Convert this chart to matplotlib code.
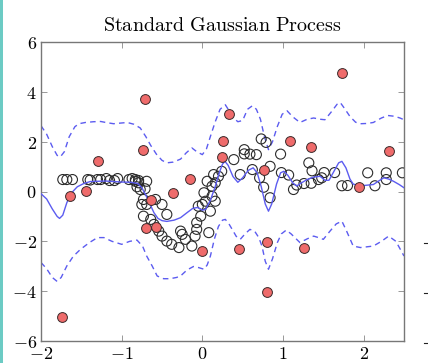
import matplotlib
matplotlib.use("Agg")
import matplotlib.pyplot as plt
from matplotlib.lines import Line2D
from matplotlib.patches import Rectangle

plt.rcParams["mathtext.fontset"] = "cm"
plt.rcParams["font.family"] = "serif"
plt.rcParams["font.serif"] = ["DejaVu Serif"]

# observed training data (hollow circles)
obs_x = [-1.73, -1.68, -1.61, -1.42, -1.39, -1.30, -1.26, -1.19, -1.15, -1.09, -1.05,
         -0.91, -0.87, -0.83, -0.79,
         -0.83, -0.79, -0.81, -0.77, -0.71, -0.69, -0.73, -0.75, -0.69, -0.73, -0.64,
         -0.60, -0.50, -0.58, -0.44, -0.54, -0.50, -0.44, -0.38, -0.29, -0.27, -0.25,
         -0.21, -0.13, -0.09, -0.07, -0.07, -0.02, -0.05, 0.00, 0.04, 0.10, 0.08, 0.02,
         0.06, 0.12, 0.16, 0.14, 0.20, 0.16, 0.12, 0.24,
         0.39, 0.47, 0.52, 0.52, 0.59, 0.67, 0.62, 0.73, 0.79, 0.71, 0.76, 0.84, 0.84,
         0.97, 0.98, 1.07, 1.13, 1.17, 1.26, 1.32, 1.36, 1.35, 1.44, 1.48, 1.51, 1.64,
         1.73, 1.80, 2.05, 2.14, 2.28, 2.28, 2.48]
obs_y = [0.48, 0.48, 0.48, 0.48, 0.46, 0.48, 0.48, 0.52, 0.44, 0.44, 0.52,
         0.48, 0.52, 0.48, 0.44,
         0.41, 0.35, 0.19, 0.08, 0.11, 0.41, -0.32, -0.52, -0.52, -0.99, -1.12,
         -1.32, -0.52, -0.32, -0.92, -1.59, -1.79, -1.99, -2.12, -2.25, -1.59, -1.72,
         -1.92, -2.19, -1.79, -1.52, -1.25, -0.99, -0.59, -0.52, -0.39, -0.79, -1.65, -0.05,
         0.41, 0.21, 0.35, 0.68, 0.61, -0.39, -0.19, 0.81,
         1.28, 0.68, 1.68, 1.51, 1.50, 1.48, 0.88, 2.11, 1.97, 0.55, 0.17, -0.25, 1.01,
         1.50, 0.76, 0.66, 0.08, 0.26, 0.32, 1.15, 0.83, 0.33, 0.48, 0.55, 0.76, 0.76,
         0.23, 0.24, 0.75, 0.23, 0.75, 0.48, 0.75]

# held-out / outlier points (red filled circles)
out_x = [-1.74, -1.64, -1.44, -1.29, -0.715, -0.74, -0.64, -0.70, -0.58, -0.36,
         -0.15, -0.01, 0.33, 0.26, 0.24, 0.77, 1.09, 1.35, 1.94, 2.31, 1.73,
         0.45, 0.80, 0.80, 1.26]
out_y = [-5.03, -0.19, 0.01, 1.24, 3.71, 1.65, -0.35, -1.45, -1.43, -0.07,
         0.51, -2.37, 3.11, 2.01, 1.37, 0.88, 2.03, 1.80, 0.20, 1.61, 4.75,
         -2.29, -2.03, -4.04, -2.28]

# posterior mean
mean_x = [-2.0, -1.93, -1.86, -1.80, -1.77, -1.73, -1.68, -1.62, -1.55, -1.47, -1.39,
          -1.2, -1.0, -0.89, -0.80, -0.75, -0.70, -0.65, -0.6, -0.55, -0.5, -0.44,
          -0.35, -0.27, -0.19, -0.12, -0.06, 0.0, 0.04, 0.10, 0.16, 0.21, 0.25, 0.28,
          0.32, 0.38, 0.44, 0.50, 0.57, 0.63, 0.68, 0.73, 0.78, 0.82, 0.86, 0.92, 0.97,
          1.01, 1.06, 1.12, 1.17, 1.23, 1.30, 1.38, 1.46, 1.52, 1.57, 1.63, 1.69, 1.73,
          1.78, 1.83, 1.87, 1.93, 2.0, 2.12, 2.2, 2.25, 2.31, 2.37, 2.44, 2.5]
mean_y = [-0.09, -0.3, -0.7, -1.0, -1.08, -0.95, -0.45, -0.05, 0.19, 0.32, 0.40,
          0.42, 0.38, 0.37, 0.32, 0.15, -0.15, -0.5, -0.85, -1.08, -1.17, -1.2,
          -1.15, -1.05, -0.85, -0.68, -0.64, -0.75, -0.72, -0.35, 0.2, 0.75, 1.1, 1.21,
          1.05, 0.6, 0.37, 0.55, 0.85, 0.95, 0.75, 0.2, -0.5, -0.79, -0.5, 0.3, 0.75,
          0.81, 0.65, 0.35, 0.22, 0.35, 0.48, 0.58, 0.61, 0.45, 0.45, 0.8, 1.15, 1.21,
          0.95, 0.5, 0.3, 0.24, 0.24, 0.28, 0.45, 0.55, 0.5, 0.41, 0.28, 0.15]

# upper confidence bound
up_x = [-2.0, -1.93, -1.86, -1.80, -1.76, -1.71, -1.65, -1.58, -1.53, -1.45, -1.35,
        -1.26, -1.18, -1.10, -1.0, -0.93, -0.85, -0.77, -0.70, -0.64, -0.57, -0.50,
        -0.44, -0.36, -0.27, -0.20, -0.13, -0.07, 0.0, 0.05, 0.10, 0.16, 0.22, 0.285,
        0.34, 0.39, 0.44, 0.50, 0.56, 0.62, 0.67, 0.72, 0.77, 0.82, 0.87, 0.93, 0.99,
        1.05, 1.12, 1.21, 1.30, 1.38, 1.46, 1.52, 1.60, 1.67, 1.71, 1.77, 1.83, 1.90,
        1.96, 2.04, 2.12, 2.22, 2.30, 2.38, 2.45, 2.5]
up_y = [2.64, 2.3, 1.8, 1.45, 1.39, 1.6, 2.2, 2.6, 2.72, 2.77, 2.8,
        2.81, 2.76, 2.72, 2.75, 2.77, 2.7, 2.55, 2.2, 1.85, 1.5, 1.25,
        1.15, 1.18, 1.3, 1.55, 1.75, 1.6, 1.48, 1.7, 2.21, 2.8, 3.3, 3.48,
        3.2, 2.95, 2.8, 2.85, 3.3, 3.44, 3.3, 2.9, 2.2, 1.68, 2.0, 2.61, 3.1,
        3.24, 3.0, 2.77, 2.9, 2.95, 2.9, 2.88, 3.2, 3.5, 3.57, 3.3, 3.01, 2.78,
        2.72, 2.73, 2.77, 2.95, 3.05, 3.02, 2.95, 2.88]

# lower confidence bound
lo_x = [-2.0, -1.93, -1.86, -1.80, -1.75, -1.68, -1.6, -1.51, -1.40, -1.30, -1.22,
        -1.12, -1.0, -0.90, -0.81, -0.74, -0.69, -0.62, -0.56, -0.48, -0.40, -0.32,
        -0.27, -0.19, -0.11, -0.05, 0.02, 0.06, 0.10, 0.15, 0.20, 0.25, 0.285, 0.33,
        0.37, 0.42, 0.47, 0.53, 0.59, 0.65, 0.70, 0.74, 0.78, 0.82, 0.87, 0.93, 0.98,
        1.04, 1.10, 1.21, 1.30, 1.38, 1.44, 1.50, 1.58, 1.66, 1.73, 1.79, 1.87, 1.96,
        2.04, 2.12, 2.22, 2.31, 2.40, 2.5]
lo_y = [-2.85, -3.1, -3.45, -3.61, -3.45, -2.99, -2.6, -2.32, -2.05, -1.85, -1.85,
        -2.0, -2.12, -2.0, -1.95, -2.2, -2.59, -3.0, -3.39, -3.5, -3.5, -3.45,
        -3.39, -3.15, -3.01, -3.05, -3.12, -2.95, -2.59, -1.9, -1.4, -1.15, -1.12, -1.3,
        -1.52, -1.8, -1.92, -1.7, -1.52, -1.6, -1.85, -2.2, -2.8, -3.12, -2.7, -2.05, -1.7,
        -1.55, -1.7, -2.05, -1.9, -1.79, -1.85, -1.92, -1.6, -1.3, -1.19, -1.6, -2.19, -2.25,
        -2.22, -2.19, -2.0, -1.79, -2.0, -2.59]

x_ticks = [-2, -1, 0, 1, 2]
y_ticks = [-6, -4, -2, 0, 2, 4, 6]

fig = plt.figure(figsize=(4.28, 3.63), dpi=100)
ax = fig.add_axes([41 / 428, 22 / 363, 363 / 428, 299 / 363])

line_col = "#5c5cf0"
ax.plot(up_x, up_y, color=line_col, lw=1.0, ls=(0, (4, 3)), zorder=2)
ax.plot(lo_x, lo_y, color=line_col, lw=1.0, ls=(0, (4, 3)), zorder=2)
ax.scatter(obs_x, obs_y, s=52, facecolors="none", edgecolors="#2b2b2b",
           linewidths=0.8, zorder=3)
ax.plot(mean_x, mean_y, color=line_col, lw=1.0, zorder=4)
ax.scatter(out_x, out_y, s=50, facecolors="#ef6b6b", edgecolors="#3a2a2a",
           linewidths=0.7, zorder=5)

ax.set_xlim(-2, 2.5)
ax.set_ylim(-6, 6)
ax.set_xticks(x_ticks)
ax.set_yticks(y_ticks)
ax.set_xticklabels([rf"${v}$" for v in x_ticks])
ax.set_yticklabels([rf"${v}$" for v in y_ticks])
ax.tick_params(direction="in", length=4, width=0.6, color="#888888",
               top=True, right=True, labelsize=13, pad=3)
for s in ax.spines.values():
    s.set_color("#777777")
    s.set_linewidth(1.0)

ax.set_title(r"$\mathrm{Standard\ Gaussian\ Process}$", fontsize=14.5, pad=8)

# neighbouring panel edge
fig.add_artist(Rectangle((0, 0), 2.5 / 428, 1, transform=fig.transFigure,
                         color="#6ccbc4", lw=0))
for yy in [243, 293, 343]:
    fig.add_artist(Line2D([424 / 428, 428 / 428], [1 - yy / 363] * 2,
                          transform=fig.transFigure, color="#222222", lw=0.8))

fig.savefig("out.png", dpi=100)
